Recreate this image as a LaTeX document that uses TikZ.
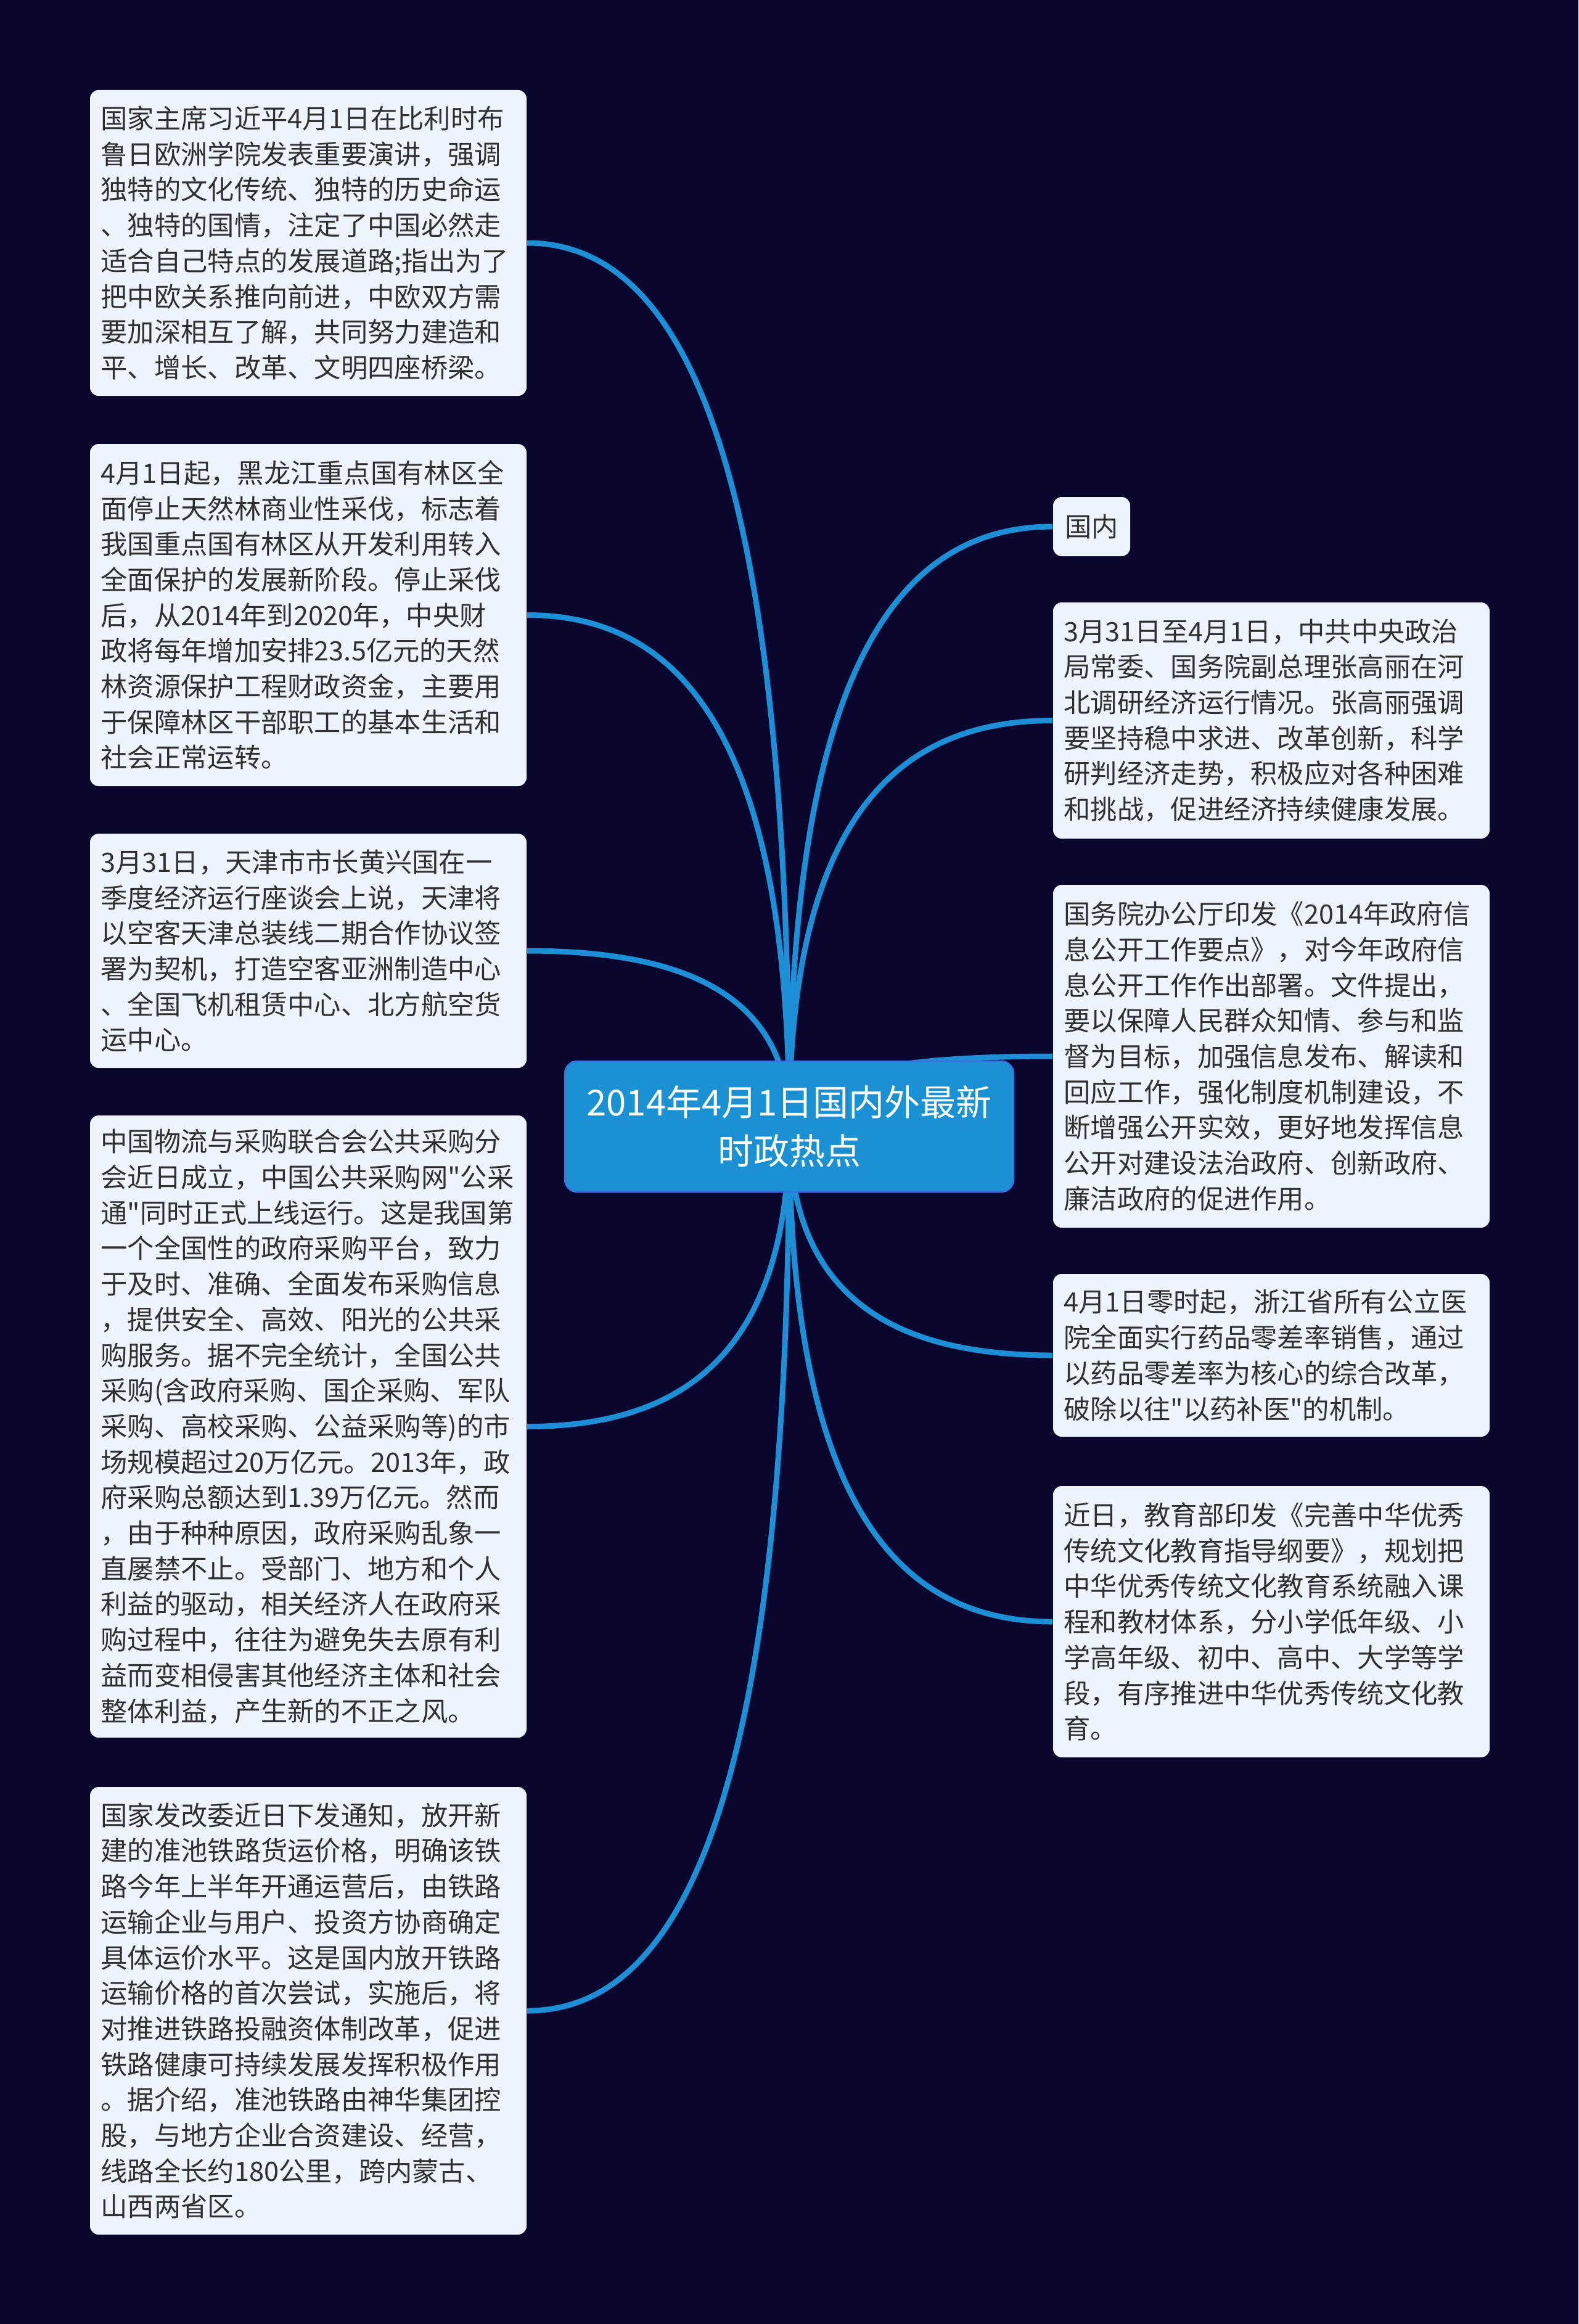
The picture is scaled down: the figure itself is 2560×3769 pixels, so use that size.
\documentclass[tikz,border=0pt]{standalone}
\usepackage{fontspec}
\setmainfont{Noto Sans CJK SC}[Ligatures=TeXOff]
\usetikzlibrary{calc,backgrounds}
\definecolor{bgnavy}{RGB}{10,6,46}
\definecolor{leaffill}{RGB}{238,244,253}
\definecolor{rootfill}{RGB}{27,145,212}
\definecolor{rootedge}{RGB}{60,110,228}
\definecolor{linkblue}{RGB}{29,143,214}
\definecolor{inkgray}{RGB}{48,48,48}
\begin{document}
\begin{tikzpicture}[x=0.2pt,y=-0.2pt,
  leafbox/.style={anchor=north west, fill=leaffill, rounded corners=2.8pt,
    text=inkgray, font=\fontsize{8.66pt}{11.54pt}\selectfont, align=left,
    text width=134.6pt, inner xsep=3.4pt, inner ysep=0pt, minimum width=141.6pt},
  tagbox/.style={anchor=north west, fill=leaffill, rounded corners=2.8pt,
    text=inkgray, font=\fontsize{8.66pt}{11.54pt}\selectfont,
    inner sep=0pt, minimum width=25pt, minimum height=19.2pt},
  rootbox/.style={fill=rootfill, draw=rootedge, line width=0.5pt, rounded corners=4pt,
    text=white, font=\fontsize{11.6pt}{15.7pt}\selectfont, align=center,
    minimum width=145.6pt, minimum height=42.4pt, inner sep=0pt},
  link/.style={draw=linkblue, line width=1.8pt}]

\useasboundingbox (0,0) rectangle (2560,3769);

% central topic
\node[rootbox] (root) at (1280,1827) {2014年4月1日国内外最新\\时政热点};

% left column
\node[leafbox, minimum height=99.2pt] (l1) at (145,145) {国家主席习近平4月1日在比利时布\\鲁日欧洲学院发表重要演讲，强调\\独特的文化传统、独特的历史命运\\、独特的国情，注定了中国必然走\\适合自己特点的发展道路;指出为了\\把中欧关系推向前进，中欧双方需\\要加深相互了解，共同努力建造和\\平、增长、改革、文明四座桥梁。};

\node[leafbox, minimum height=111pt] (l2) at (145,719) {4月1日起，黑龙江重点国有林区全\\面停止天然林商业性采伐，标志着\\我国重点国有林区从开发利用转入\\全面保护的发展新阶段。停止采伐\\后，从2014年到2020年，中央财\\政将每年增加安排23.5亿元的天然\\林资源保护工程财政资金，主要用\\于保障林区干部职工的基本生活和\\社会正常运转。};

\node[leafbox, minimum height=76pt] (l3) at (145,1351) {3月31日，天津市市长黄兴国在一\\季度经济运行座谈会上说，天津将\\以空客天津总装线二期合作协议签\\署为契机，打造空客亚洲制造中心\\、全国飞机租赁中心、北方航空货\\运中心。};

\node[leafbox, minimum height=201.8pt] (l4) at (145,1808) {中国物流与采购联合会公共采购分\\会近日成立，中国公共采购网"公采\\通"同时正式上线运行。这是我国第\\一个全国性的政府采购平台，致力\\于及时、准确、全面发布采购信息\\，提供安全、高效、阳光的公共采\\购服务。据不完全统计，全国公共\\采购(含政府采购、国企采购、军队\\采购、高校采购、公益采购等)的市\\场规模超过20万亿元。2013年，政\\府采购总额达到1.39万亿元。然而\\，由于种种原因，政府采购乱象一\\直屡禁不止。受部门、地方和个人\\利益的驱动，相关经济人在政府采\\购过程中，往往为避免失去原有利\\益而变相侵害其他经济主体和社会\\整体利益，产生新的不正之风。};

\node[leafbox, minimum height=145.2pt] (l5) at (145,2897) {国家发改委近日下发通知，放开新\\建的准池铁路货运价格，明确该铁\\路今年上半年开通运营后，由铁路\\运输企业与用户、投资方协商确定\\具体运价水平。这是国内放开铁路\\运输价格的首次尝试，实施后，将\\对推进铁路投融资体制改革，促进\\铁路健康可持续发展发挥积极作用\\。据介绍，准池铁路由神华集团控\\股，与地方企业合资建设、经营，\\线路全长约180公里，跨内蒙古、\\山西两省区。};

% right column
\node[tagbox] (r0) at (1707,805) {国内};

\node[leafbox, minimum height=76.6pt] (r1) at (1707,976) {3月31日至4月1日，中共中央政治\\局常委、国务院副总理张高丽在河\\北调研经济运行情况。张高丽强调\\要坚持稳中求进、改革创新，科学\\研判经济走势，积极应对各种困难\\和挑战，促进经济持续健康发展。};

\node[leafbox, minimum height=111.2pt] (r2) at (1707,1434) {国务院办公厅印发《2014年政府信\\息公开工作要点》，对今年政府信\\息公开工作作出部署。文件提出，\\要以保障人民群众知情、参与和监\\督为目标，加强信息发布、解读和\\回应工作，强化制度机制建设，不\\断增强公开实效，更好地发挥信息\\公开对建设法治政府、创新政府、\\廉洁政府的促进作用。};

\node[leafbox, minimum height=52.8pt] (r3) at (1707,2065) {4月1日零时起，浙江省所有公立医\\院全面实行药品零差率销售，通过\\以药品零差率为核心的综合改革，\\破除以往"以药补医"的机制。};

\node[leafbox, minimum height=88pt] (r4) at (1707,2409) {近日，教育部印发《完善中华优秀\\传统文化教育指导纲要》，规划把\\中华优秀传统文化教育系统融入课\\程和教材体系，分小学低年级、小\\学高年级、初中、高中、大学等学\\段，有序推进中华优秀传统文化教\\育。};

\begin{pgfonlayer}{background}
  \fill[bgnavy] (0,0) rectangle (2560,3769);
  \foreach \n/\a in {l1/east,l2/east,l3/east,l4/east,l5/east,r0/west,r1/west,r2/west,r3/west,r4/west}{
    \draw[link] (root.center) .. controls ($(root.center)!0.75!(root.center|-\n.\a)$)
      and ($(\n.\a)!0.6!(root.center|-\n.\a)$) .. (\n.\a);
  }
\end{pgfonlayer}
\end{tikzpicture}
\end{document}
